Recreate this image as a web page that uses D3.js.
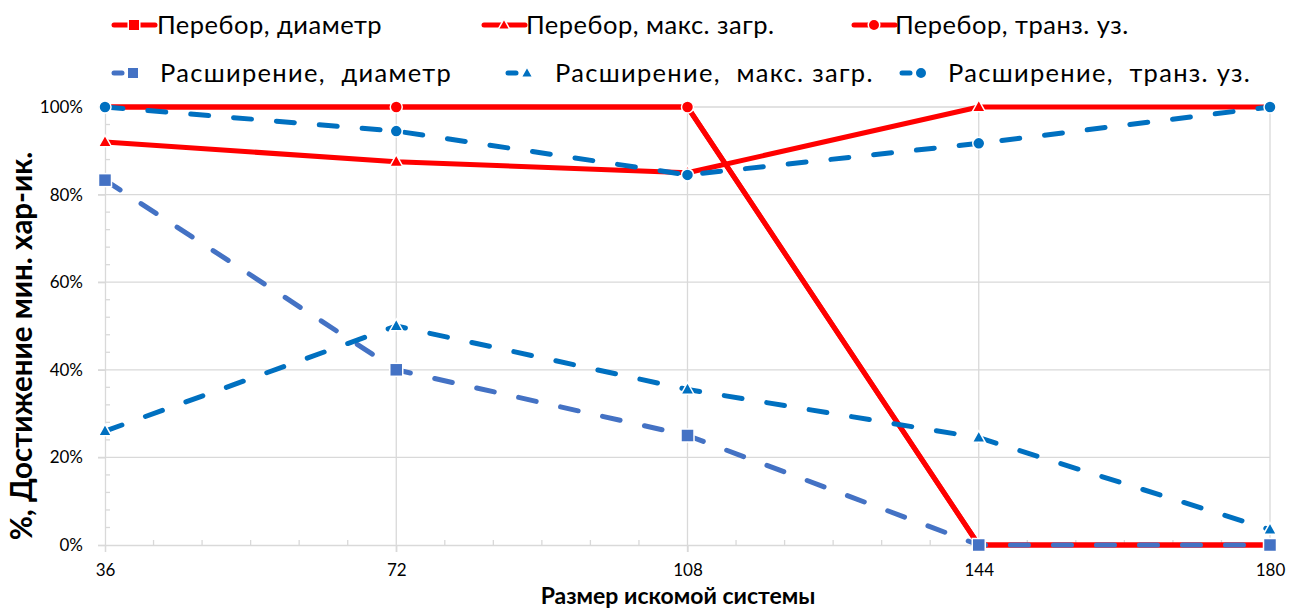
<!DOCTYPE html>
<html>
<head>
<meta charset="utf-8">
<script src="https://cdn.jsdelivr.net/npm/d3@7"></script>
<style>
  html, body { margin: 0; padding: 0; background: #fff; }
  svg { display: block; font-family: Lato, "Open Sans", "DejaVu Sans", sans-serif; }
</style>
</head>
<body>
<svg id="chart" width="1289" height="610"></svg>
<script>
// ---- data ----
const categories = [36, 72, 108, 144, 180];
const yTicks = [0, 20, 40, 60, 80, 100];
const pereborDiam    = [100, 100, 100, 0, 0];
const pereborLoad    = [92, 87.5, 85, 100, 100];
const pereborTransit = [100, 100, 100, 0, 0];
const rasshDiam      = [83.3, 40, 25, 0, 0];
const rasshLoad      = [26, 50, 35.5, 24.5, 3.5];
const rasshTransit   = [100, 94.5, 84.5, 91.7, 100];
const seriesNames = [
  "Перебор, диаметр", "Перебор, макс. загр.", "Перебор, транз. уз.",
  "Расширение,  диаметр", "Расширение,  макс. загр.", "Расширение,  транз. уз."
];
const xTitle = "Размер искомой системы";
const yTitle = "%, Достижение мин. хар-ик.";

(function () {
const RED = "#FF0000", BLUE1 = "#4472C4", BLUE2 = "#0070C0";
const series = [
  {name: seriesNames[0], values: pereborDiam,    color: RED,   shape: "square",   dashed: false, size: 8},
  {name: seriesNames[1], values: pereborLoad,    color: RED,   shape: "triangle", dashed: false, size: 13},
  {name: seriesNames[2], values: pereborTransit, color: RED,   shape: "circle",   dashed: false, size: 12},
  {name: seriesNames[3], values: rasshDiam,      color: BLUE1, shape: "square",   dashed: true,  size: 13},
  {name: seriesNames[4], values: rasshLoad,      color: BLUE2, shape: "triangle", dashed: true,  size: 13},
  {name: seriesNames[5], values: rasshTransit,   color: BLUE2, shape: "circle",   dashed: true,  size: 12}
];

const svg = d3.select("#chart");
const pL = 105, pR = 1270, pT = 107, pB = 545;
const x = d3.scaleLinear().domain([36, 180]).range([pL, pR]);
const y = d3.scaleLinear().domain([0, 100]).range([pB, pT]);
const GRID = "#d9d9d9";

// horizontal gridlines
svg.append("g").selectAll("line").data(yTicks.filter(d => d > 0)).join("line")
  .attr("x1", pL - 7).attr("x2", pR).attr("y1", d => y(d)).attr("y2", d => y(d))
  .attr("stroke", GRID).attr("stroke-width", 1.3);
// vertical gridlines
svg.append("g").selectAll("line").data(categories.slice(1)).join("line")
  .attr("x1", d => x(d)).attr("x2", d => x(d)).attr("y1", pT).attr("y2", pB + 7)
  .attr("stroke", GRID).attr("stroke-width", 1.3);

// y axis
const yAxis = d3.axisLeft(y).tickValues(yTicks).tickFormat(d => d + "%").tickSize(7).tickPadding(15);
const gy = svg.append("g").attr("transform", `translate(${pL},0)`).call(yAxis);
gy.select(".domain").attr("stroke", GRID).attr("stroke-width", 1.3);
gy.selectAll(".tick line").attr("stroke", GRID).attr("stroke-width", 1.3);
gy.selectAll("text").attr("font-size", 17).attr("fill", "#000").attr("font-family", "Lato, sans-serif");
// y minor ticks (inside)
svg.append("g").selectAll("line").data(d3.range(0, 100, 4).filter(d => d % 20 !== 0)).join("line")
  .attr("x1", pL).attr("x2", pL + 5).attr("y1", d => y(d)).attr("y2", d => y(d))
  .attr("stroke", GRID).attr("stroke-width", 1.3);

// x axis
const xAxis = d3.axisBottom(x).tickValues(categories).tickFormat(d => d).tickSize(7).tickPadding(12);
const gx = svg.append("g").attr("transform", `translate(0,${pB})`).call(xAxis);
gx.select(".domain").attr("stroke", GRID).attr("stroke-width", 1.3);
gx.selectAll(".tick line").attr("stroke", GRID).attr("stroke-width", 1.3);
gx.selectAll("text").attr("font-size", 17).attr("fill", "#000").attr("font-family", "Lato, sans-serif");
// x minor ticks (inside)
svg.append("g").selectAll("line").data(d3.range(36, 180, 6).filter(d => (d - 36) % 36 !== 0)).join("line")
  .attr("x1", d => x(d)).attr("x2", d => x(d)).attr("y1", pB).attr("y2", pB - 5)
  .attr("stroke", GRID).attr("stroke-width", 1.3);

// axis titles
svg.append("text").attr("x", 678).attr("y", 604).attr("text-anchor", "middle")
  .attr("font-size", 23).attr("font-weight", "bold").text(xTitle);
svg.append("text").attr("transform", `translate(32,346) rotate(-90)`)
  .attr("text-anchor", "middle").attr("font-size", 29.5).attr("font-weight", "bold").text(yTitle);

// marker drawing
function drawMarker(g, shape, cx, cy, size, color) {
  const stroke = "#fff", sw = 1.5;
  if (shape === "circle") {
    g.append("circle").attr("cx", cx).attr("cy", cy).attr("r", size / 2)
      .attr("fill", color).attr("stroke", stroke).attr("stroke-width", sw);
  } else if (shape === "square") {
    g.append("rect").attr("x", cx - size / 2).attr("y", cy - size / 2).attr("width", size).attr("height", size)
      .attr("fill", color).attr("stroke", stroke).attr("stroke-width", sw);
  } else {
    const h = size * 0.9, w = size;
    g.append("path").attr("d", `M${cx},${cy - h * 0.6}L${cx + w / 2},${cy + h * 0.4}L${cx - w / 2},${cy + h * 0.4}Z`)
      .attr("fill", color).attr("stroke", stroke).attr("stroke-width", sw);
  }
}

const line = d3.line().x((d, i) => x(categories[i])).y(d => y(d));
const plot = svg.append("g");
series.forEach(s => {
  const g = plot.append("g");
  g.append("path").attr("d", line(s.values)).attr("fill", "none")
    .attr("stroke", s.color).attr("stroke-width", 5)
    .attr("stroke-linecap", s.dashed ? "round" : "butt")
    .attr("stroke-linejoin", "round")
    .attr("stroke-dasharray", s.dashed ? "18,25" : null);
  s.values.forEach((v, i) => drawMarker(g, s.shape, x(categories[i]), y(v), s.size, s.color));
});

// legend
const legendSymX = [[112, 482, 852], [112, 506, 900]];
const legendTextX = [[157, 526, 895], [160, 555, 948]];
const legendY = [25, 73];
series.forEach((s, i) => {
  const row = Math.floor(i / 3), col = i % 3;
  const lx = legendSymX[row][col], ly = legendY[row];
  const g = svg.append("g");
  if (!s.dashed) {
    g.append("line").attr("x1", lx + 2).attr("x2", lx + 43).attr("y1", ly).attr("y2", ly)
      .attr("stroke", s.color).attr("stroke-width", 5).attr("stroke-linecap", "round");
    drawMarker(g, s.shape, lx + 22, ly, 11.5, s.color);
  } else {
    g.append("line").attr("x1", lx + 2).attr("x2", lx + 10).attr("y1", ly).attr("y2", ly)
      .attr("stroke", s.color).attr("stroke-width", 5).attr("stroke-linecap", "round");
    drawMarker(g, s.shape, lx + 21, ly, 11.5, s.color);
  }
  g.append("text").attr("x", legendTextX[row][col])
    .attr("y", ly + 8.5).attr("font-size", 25.5).attr("fill", "#000")
    .attr("letter-spacing", row === 1 ? 1.3 : 0.5)
    .style("white-space", "pre").text(s.name);
});
})();
</script>
</body>
</html>
